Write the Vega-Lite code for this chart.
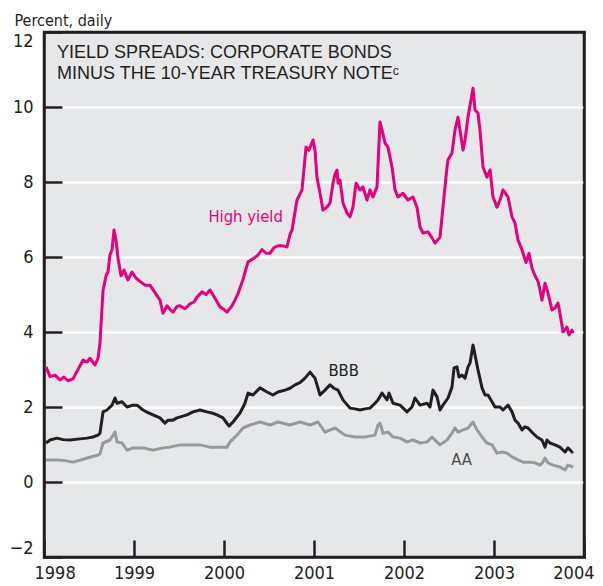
{
 "$schema": "https://vega.github.io/schema/vega-lite/v6.json",
 "width": 540, "height": 525,
 "autosize": "none",
 "padding": {"left": 44, "top": 32, "right": 19, "bottom": 29},
 "background": "white",
 "config": {"view": {"fill": "#e6e7e8", "stroke": "#231f20", "strokeWidth": 2.5}, "font": "Liberation Sans Narrow, Arial Narrow, DejaVu Sans Condensed, Roboto Condensed, Liberation Sans, sans-serif"},
 "title": {"text": ["YIELD SPREADS: CORPORATE BONDS", "MINUS THE 10-YEAR TREASURY NOTEᶜ"], "anchor": "start", "frame": "group", "orient": "top", "offset": 0, "dx": 13, "dy": 71, "baseline": "top", "font": "Liberation Sans, Arial, sans-serif", "fontSize": 18, "fontWeight": "normal", "color": "#231f20", "lineHeight": 21},
 "datasets": {
  "lines": [
{"series":"High yield","year":1998.022,"pct":3.07},{"series":"High yield","year":1998.067,"pct":2.81},{"series":"High yield","year":1998.122,"pct":2.85},{"series":"High yield","year":1998.178,"pct":2.72},{"series":"High yield","year":1998.222,"pct":2.8},{"series":"High yield","year":1998.267,"pct":2.7},{"series":"High yield","year":1998.322,"pct":2.75},{"series":"High yield","year":1998.378,"pct":3.0},{"series":"High yield","year":1998.433,"pct":3.25},{"series":"High yield","year":1998.478,"pct":3.2},{"series":"High yield","year":1998.511,"pct":3.3},{"series":"High yield","year":1998.567,"pct":3.12},{"series":"High yield","year":1998.6,"pct":3.3},{"series":"High yield","year":1998.622,"pct":3.7},{"series":"High yield","year":1998.641,"pct":4.5},{"series":"High yield","year":1998.656,"pct":5.1},{"series":"High yield","year":1998.689,"pct":5.5},{"series":"High yield","year":1998.711,"pct":5.6},{"series":"High yield","year":1998.733,"pct":6.05},{"series":"High yield","year":1998.756,"pct":6.2},{"series":"High yield","year":1998.778,"pct":6.72},{"series":"High yield","year":1998.8,"pct":6.45},{"series":"High yield","year":1998.822,"pct":5.97},{"series":"High yield","year":1998.856,"pct":5.5},{"series":"High yield","year":1998.889,"pct":5.65},{"series":"High yield","year":1998.933,"pct":5.39},{"series":"High yield","year":1998.978,"pct":5.6},{"series":"High yield","year":1999.022,"pct":5.44},{"series":"High yield","year":1999.067,"pct":5.35},{"series":"High yield","year":1999.122,"pct":5.25},{"series":"High yield","year":1999.178,"pct":5.25},{"series":"High yield","year":1999.233,"pct":5.05},{"series":"High yield","year":1999.289,"pct":4.85},{"series":"High yield","year":1999.322,"pct":4.5},{"series":"High yield","year":1999.367,"pct":4.7},{"series":"High yield","year":1999.4,"pct":4.6},{"series":"High yield","year":1999.433,"pct":4.53},{"series":"High yield","year":1999.478,"pct":4.68},{"series":"High yield","year":1999.511,"pct":4.7},{"series":"High yield","year":1999.567,"pct":4.62},{"series":"High yield","year":1999.622,"pct":4.75},{"series":"High yield","year":1999.667,"pct":4.8},{"series":"High yield","year":1999.7,"pct":4.93},{"series":"High yield","year":1999.756,"pct":5.07},{"series":"High yield","year":1999.8,"pct":5.0},{"series":"High yield","year":1999.844,"pct":5.12},{"series":"High yield","year":1999.9,"pct":4.9},{"series":"High yield","year":1999.956,"pct":4.67},{"series":"High yield","year":2000.0,"pct":4.6},{"series":"High yield","year":2000.033,"pct":4.53},{"series":"High yield","year":2000.089,"pct":4.7},{"series":"High yield","year":2000.122,"pct":4.85},{"series":"High yield","year":2000.156,"pct":5.03},{"series":"High yield","year":2000.211,"pct":5.4},{"series":"High yield","year":2000.267,"pct":5.87},{"series":"High yield","year":2000.322,"pct":5.95},{"series":"High yield","year":2000.378,"pct":6.05},{"series":"High yield","year":2000.422,"pct":6.2},{"series":"High yield","year":2000.467,"pct":6.1},{"series":"High yield","year":2000.511,"pct":6.1},{"series":"High yield","year":2000.556,"pct":6.25},{"series":"High yield","year":2000.6,"pct":6.3},{"series":"High yield","year":2000.644,"pct":6.3},{"series":"High yield","year":2000.7,"pct":6.27},{"series":"High yield","year":2000.733,"pct":6.6},{"series":"High yield","year":2000.756,"pct":6.72},{"series":"High yield","year":2000.811,"pct":7.52},{"series":"High yield","year":2000.867,"pct":7.79},{"series":"High yield","year":2000.911,"pct":8.93},{"series":"High yield","year":2000.944,"pct":8.85},{"series":"High yield","year":2000.989,"pct":9.12},{"series":"High yield","year":2001.011,"pct":8.85},{"series":"High yield","year":2001.033,"pct":8.13},{"series":"High yield","year":2001.067,"pct":7.7},{"series":"High yield","year":2001.1,"pct":7.25},{"series":"High yield","year":2001.144,"pct":7.33},{"series":"High yield","year":2001.178,"pct":7.44},{"series":"High yield","year":2001.211,"pct":7.97},{"series":"High yield","year":2001.233,"pct":8.2},{"series":"High yield","year":2001.256,"pct":8.32},{"series":"High yield","year":2001.267,"pct":7.97},{"series":"High yield","year":2001.289,"pct":8.05},{"series":"High yield","year":2001.322,"pct":7.44},{"series":"High yield","year":2001.367,"pct":7.17},{"series":"High yield","year":2001.4,"pct":7.07},{"series":"High yield","year":2001.433,"pct":7.33},{"series":"High yield","year":2001.467,"pct":7.97},{"series":"High yield","year":2001.511,"pct":7.79},{"series":"High yield","year":2001.544,"pct":7.87},{"series":"High yield","year":2001.589,"pct":7.52},{"series":"High yield","year":2001.622,"pct":7.79},{"series":"High yield","year":2001.656,"pct":7.6},{"series":"High yield","year":2001.7,"pct":7.87},{"series":"High yield","year":2001.733,"pct":9.6},{"series":"High yield","year":2001.756,"pct":9.39},{"series":"High yield","year":2001.789,"pct":9.04},{"series":"High yield","year":2001.822,"pct":8.93},{"series":"High yield","year":2001.867,"pct":8.4},{"series":"High yield","year":2001.9,"pct":7.79},{"series":"High yield","year":2001.933,"pct":7.6},{"series":"High yield","year":2001.989,"pct":7.7},{"series":"High yield","year":2002.044,"pct":7.52},{"series":"High yield","year":2002.1,"pct":7.6},{"series":"High yield","year":2002.144,"pct":7.33},{"series":"High yield","year":2002.178,"pct":6.8},{"series":"High yield","year":2002.211,"pct":6.64},{"series":"High yield","year":2002.267,"pct":6.67},{"series":"High yield","year":2002.311,"pct":6.51},{"series":"High yield","year":2002.344,"pct":6.37},{"series":"High yield","year":2002.4,"pct":6.53},{"series":"High yield","year":2002.433,"pct":7.33},{"series":"High yield","year":2002.478,"pct":8.4},{"series":"High yield","year":2002.489,"pct":8.59},{"series":"High yield","year":2002.533,"pct":8.77},{"series":"High yield","year":2002.567,"pct":9.39},{"series":"High yield","year":2002.6,"pct":9.73},{"series":"High yield","year":2002.622,"pct":9.39},{"series":"High yield","year":2002.656,"pct":8.85},{"series":"High yield","year":2002.678,"pct":9.12},{"series":"High yield","year":2002.711,"pct":9.73},{"series":"High yield","year":2002.767,"pct":10.5},{"series":"High yield","year":2002.789,"pct":9.92},{"series":"High yield","year":2002.822,"pct":9.84},{"series":"High yield","year":2002.844,"pct":9.39},{"series":"High yield","year":2002.878,"pct":8.4},{"series":"High yield","year":2002.922,"pct":8.13},{"series":"High yield","year":2002.956,"pct":8.32},{"series":"High yield","year":2002.989,"pct":7.6},{"series":"High yield","year":2003.033,"pct":7.33},{"series":"High yield","year":2003.067,"pct":7.52},{"series":"High yield","year":2003.1,"pct":7.79},{"series":"High yield","year":2003.156,"pct":7.6},{"series":"High yield","year":2003.2,"pct":7.07},{"series":"High yield","year":2003.233,"pct":6.91},{"series":"High yield","year":2003.267,"pct":6.45},{"series":"High yield","year":2003.311,"pct":6.19},{"series":"High yield","year":2003.356,"pct":5.85},{"series":"High yield","year":2003.389,"pct":6.1},{"series":"High yield","year":2003.422,"pct":5.7},{"series":"High yield","year":2003.456,"pct":5.5},{"series":"High yield","year":2003.489,"pct":5.35},{"series":"High yield","year":2003.511,"pct":5.12},{"series":"High yield","year":2003.533,"pct":4.85},{"series":"High yield","year":2003.567,"pct":5.3},{"series":"High yield","year":2003.6,"pct":5.04},{"series":"High yield","year":2003.644,"pct":4.59},{"series":"High yield","year":2003.678,"pct":4.64},{"series":"High yield","year":2003.711,"pct":4.77},{"series":"High yield","year":2003.733,"pct":4.5},{"series":"High yield","year":2003.767,"pct":4.0},{"series":"High yield","year":2003.811,"pct":4.13},{"series":"High yield","year":2003.833,"pct":3.92},{"series":"High yield","year":2003.867,"pct":4.05},{"series":"High yield","year":2003.878,"pct":3.97},
{"series":"BBB","year":1998.022,"pct":1.04},{"series":"BBB","year":1998.067,"pct":1.12},{"series":"BBB","year":1998.144,"pct":1.17},{"series":"BBB","year":1998.211,"pct":1.13},{"series":"BBB","year":1998.289,"pct":1.12},{"series":"BBB","year":1998.4,"pct":1.15},{"series":"BBB","year":1998.478,"pct":1.17},{"series":"BBB","year":1998.544,"pct":1.2},{"series":"BBB","year":1998.6,"pct":1.25},{"series":"BBB","year":1998.622,"pct":1.3},{"series":"BBB","year":1998.656,"pct":1.87},{"series":"BBB","year":1998.7,"pct":1.92},{"series":"BBB","year":1998.756,"pct":2.05},{"series":"BBB","year":1998.789,"pct":2.24},{"series":"BBB","year":1998.811,"pct":2.1},{"series":"BBB","year":1998.867,"pct":2.14},{"series":"BBB","year":1998.922,"pct":2.0},{"series":"BBB","year":1998.989,"pct":2.05},{"series":"BBB","year":1999.033,"pct":2.05},{"series":"BBB","year":1999.1,"pct":1.92},{"series":"BBB","year":1999.156,"pct":1.85},{"series":"BBB","year":1999.211,"pct":1.79},{"series":"BBB","year":1999.289,"pct":1.71},{"series":"BBB","year":1999.344,"pct":1.57},{"series":"BBB","year":1999.378,"pct":1.65},{"series":"BBB","year":1999.433,"pct":1.65},{"series":"BBB","year":1999.478,"pct":1.71},{"series":"BBB","year":1999.533,"pct":1.75},{"series":"BBB","year":1999.589,"pct":1.79},{"series":"BBB","year":1999.656,"pct":1.87},{"series":"BBB","year":1999.733,"pct":1.92},{"series":"BBB","year":1999.811,"pct":1.87},{"series":"BBB","year":1999.867,"pct":1.84},{"series":"BBB","year":1999.922,"pct":1.79},{"series":"BBB","year":1999.989,"pct":1.71},{"series":"BBB","year":2000.022,"pct":1.6},{"series":"BBB","year":2000.056,"pct":1.49},{"series":"BBB","year":2000.1,"pct":1.6},{"series":"BBB","year":2000.178,"pct":1.84},{"series":"BBB","year":2000.233,"pct":2.1},{"series":"BBB","year":2000.267,"pct":2.37},{"series":"BBB","year":2000.322,"pct":2.32},{"series":"BBB","year":2000.4,"pct":2.51},{"series":"BBB","year":2000.478,"pct":2.4},{"series":"BBB","year":2000.544,"pct":2.32},{"series":"BBB","year":2000.6,"pct":2.4},{"series":"BBB","year":2000.678,"pct":2.45},{"series":"BBB","year":2000.733,"pct":2.5},{"series":"BBB","year":2000.789,"pct":2.59},{"series":"BBB","year":2000.844,"pct":2.65},{"series":"BBB","year":2000.9,"pct":2.77},{"series":"BBB","year":2000.956,"pct":2.93},{"series":"BBB","year":2001.011,"pct":2.77},{"series":"BBB","year":2001.067,"pct":2.32},{"series":"BBB","year":2001.122,"pct":2.45},{"series":"BBB","year":2001.178,"pct":2.59},{"series":"BBB","year":2001.222,"pct":2.5},{"series":"BBB","year":2001.267,"pct":2.45},{"series":"BBB","year":2001.322,"pct":2.19},{"series":"BBB","year":2001.4,"pct":1.97},{"series":"BBB","year":2001.456,"pct":1.95},{"series":"BBB","year":2001.511,"pct":1.92},{"series":"BBB","year":2001.567,"pct":1.95},{"series":"BBB","year":2001.622,"pct":1.97},{"series":"BBB","year":2001.678,"pct":2.1},{"series":"BBB","year":2001.711,"pct":2.19},{"series":"BBB","year":2001.756,"pct":2.37},{"series":"BBB","year":2001.811,"pct":2.19},{"series":"BBB","year":2001.833,"pct":2.37},{"series":"BBB","year":2001.878,"pct":2.1},{"series":"BBB","year":2001.956,"pct":2.05},{"series":"BBB","year":2002.033,"pct":1.87},{"series":"BBB","year":2002.089,"pct":2.0},{"series":"BBB","year":2002.122,"pct":2.24},{"series":"BBB","year":2002.178,"pct":2.05},{"series":"BBB","year":2002.256,"pct":2.1},{"series":"BBB","year":2002.289,"pct":2.0},{"series":"BBB","year":2002.322,"pct":2.45},{"series":"BBB","year":2002.367,"pct":2.27},{"series":"BBB","year":2002.4,"pct":1.92},{"series":"BBB","year":2002.433,"pct":2.05},{"series":"BBB","year":2002.489,"pct":2.24},{"series":"BBB","year":2002.533,"pct":2.53},{"series":"BBB","year":2002.556,"pct":3.04},{"series":"BBB","year":2002.589,"pct":3.07},{"series":"BBB","year":2002.611,"pct":2.8},{"series":"BBB","year":2002.644,"pct":2.85},{"series":"BBB","year":2002.678,"pct":2.77},{"series":"BBB","year":2002.711,"pct":3.07},{"series":"BBB","year":2002.733,"pct":3.17},{"series":"BBB","year":2002.767,"pct":3.65},{"series":"BBB","year":2002.789,"pct":3.39},{"series":"BBB","year":2002.822,"pct":2.99},{"series":"BBB","year":2002.867,"pct":2.51},{"series":"BBB","year":2002.9,"pct":2.32},{"series":"BBB","year":2002.933,"pct":2.32},{"series":"BBB","year":2002.978,"pct":2.14},{"series":"BBB","year":2003.011,"pct":2.0},{"series":"BBB","year":2003.067,"pct":2.0},{"series":"BBB","year":2003.1,"pct":1.92},{"series":"BBB","year":2003.156,"pct":2.05},{"series":"BBB","year":2003.2,"pct":1.87},{"series":"BBB","year":2003.233,"pct":1.65},{"series":"BBB","year":2003.267,"pct":1.57},{"series":"BBB","year":2003.311,"pct":1.39},{"series":"BBB","year":2003.344,"pct":1.47},{"series":"BBB","year":2003.378,"pct":1.44},{"series":"BBB","year":2003.433,"pct":1.3},{"series":"BBB","year":2003.478,"pct":1.2},{"series":"BBB","year":2003.533,"pct":1.12},{"series":"BBB","year":2003.567,"pct":0.93},{"series":"BBB","year":2003.589,"pct":1.12},{"series":"BBB","year":2003.622,"pct":1.04},{"series":"BBB","year":2003.678,"pct":0.99},{"series":"BBB","year":2003.733,"pct":0.93},{"series":"BBB","year":2003.789,"pct":0.8},{"series":"BBB","year":2003.822,"pct":0.91},{"series":"BBB","year":2003.867,"pct":0.8},{"series":"BBB","year":2003.878,"pct":0.82},
{"series":"AA","year":1998.022,"pct":0.59},{"series":"AA","year":1998.144,"pct":0.59},{"series":"AA","year":1998.233,"pct":0.57},{"series":"AA","year":1998.322,"pct":0.53},{"series":"AA","year":1998.4,"pct":0.58},{"series":"AA","year":1998.478,"pct":0.64},{"series":"AA","year":1998.6,"pct":0.72},{"series":"AA","year":1998.622,"pct":0.75},{"series":"AA","year":1998.656,"pct":1.04},{"series":"AA","year":1998.733,"pct":1.12},{"series":"AA","year":1998.789,"pct":1.33},{"series":"AA","year":1998.811,"pct":1.07},{"series":"AA","year":1998.867,"pct":1.04},{"series":"AA","year":1998.922,"pct":0.85},{"series":"AA","year":1998.989,"pct":0.91},{"series":"AA","year":1999.1,"pct":0.91},{"series":"AA","year":1999.211,"pct":0.85},{"series":"AA","year":1999.322,"pct":0.91},{"series":"AA","year":1999.4,"pct":0.93},{"series":"AA","year":1999.511,"pct":0.99},{"series":"AA","year":1999.622,"pct":0.99},{"series":"AA","year":1999.733,"pct":0.99},{"series":"AA","year":1999.844,"pct":0.93},{"series":"AA","year":1999.956,"pct":0.93},{"series":"AA","year":2000.033,"pct":0.93},{"series":"AA","year":2000.067,"pct":1.07},{"series":"AA","year":2000.144,"pct":1.25},{"series":"AA","year":2000.211,"pct":1.44},{"series":"AA","year":2000.289,"pct":1.52},{"series":"AA","year":2000.4,"pct":1.6},{"series":"AA","year":2000.511,"pct":1.52},{"series":"AA","year":2000.6,"pct":1.6},{"series":"AA","year":2000.733,"pct":1.52},{"series":"AA","year":2000.844,"pct":1.6},{"series":"AA","year":2000.956,"pct":1.52},{"series":"AA","year":2001.044,"pct":1.6},{"series":"AA","year":2001.122,"pct":1.33},{"series":"AA","year":2001.233,"pct":1.44},{"series":"AA","year":2001.344,"pct":1.25},{"series":"AA","year":2001.456,"pct":1.2},{"series":"AA","year":2001.567,"pct":1.2},{"series":"AA","year":2001.678,"pct":1.25},{"series":"AA","year":2001.711,"pct":1.52},{"series":"AA","year":2001.733,"pct":1.57},{"series":"AA","year":2001.767,"pct":1.3},{"series":"AA","year":2001.822,"pct":1.33},{"series":"AA","year":2001.878,"pct":1.2},{"series":"AA","year":2001.956,"pct":1.17},{"series":"AA","year":2002.033,"pct":1.07},{"series":"AA","year":2002.1,"pct":1.12},{"series":"AA","year":2002.178,"pct":1.04},{"series":"AA","year":2002.256,"pct":1.07},{"series":"AA","year":2002.311,"pct":1.2},{"series":"AA","year":2002.344,"pct":1.12},{"series":"AA","year":2002.4,"pct":0.99},{"series":"AA","year":2002.478,"pct":1.12},{"series":"AA","year":2002.533,"pct":1.3},{"series":"AA","year":2002.567,"pct":1.44},{"series":"AA","year":2002.6,"pct":1.33},{"series":"AA","year":2002.656,"pct":1.39},{"series":"AA","year":2002.711,"pct":1.44},{"series":"AA","year":2002.767,"pct":1.6},{"series":"AA","year":2002.811,"pct":1.39},{"series":"AA","year":2002.867,"pct":1.2},{"series":"AA","year":2002.922,"pct":1.04},{"series":"AA","year":2002.978,"pct":0.99},{"series":"AA","year":2003.033,"pct":0.77},{"series":"AA","year":2003.089,"pct":0.8},{"series":"AA","year":2003.144,"pct":0.77},{"series":"AA","year":2003.2,"pct":0.67},{"series":"AA","year":2003.267,"pct":0.59},{"series":"AA","year":2003.322,"pct":0.53},{"series":"AA","year":2003.4,"pct":0.53},{"series":"AA","year":2003.456,"pct":0.51},{"series":"AA","year":2003.511,"pct":0.45},{"series":"AA","year":2003.544,"pct":0.53},{"series":"AA","year":2003.567,"pct":0.64},{"series":"AA","year":2003.6,"pct":0.51},{"series":"AA","year":2003.656,"pct":0.45},{"series":"AA","year":2003.733,"pct":0.4},{"series":"AA","year":2003.789,"pct":0.32},{"series":"AA","year":2003.822,"pct":0.45},{"series":"AA","year":2003.878,"pct":0.4}
  ],
  "labels": [
   {"label": "High yield", "year": 2000.24, "pct": 7.07},
   {"label": "BBB", "year": 2001.33, "pct": 2.96},
   {"label": "AA", "year": 2002.64, "pct": 0.59}
  ]
 },
 "layer": [
  {
   "data": {"name": "lines"},
   "mark": {"type": "line", "strokeWidth": 3, "strokeJoin": "round"},
   "encoding": {
    "x": {"field": "year", "type": "quantitative", "scale": {"domain": [1998, 2004], "nice": false, "zero": false},
     "axis": {"orient": "bottom", "values": [1998, 1999, 2000, 2001, 2002, 2003, 2004], "format": "d", "title": null, "grid": false,
      "domain": true, "domainColor": "#231f20", "domainWidth": 2.5, "domainCap": "square",
      "ticks": true, "tickSize": -17, "tickColor": "#231f20", "tickWidth": 2.5,
      "labelPadding": 24, "labelFlush": true, "labelFlushOffset": 10, "labelFontSize": 18, "labelColor": "#231f20"}},
    "y": {"field": "pct", "type": "quantitative", "scale": {"domain": [-2, 12], "nice": false, "zero": false},
     "axis": {"orient": "left", "values": [-2, 0, 2, 4, 6, 8, 10, 12], "title": "Percent, daily", "titleAngle": 0, "titleAlign": "left", "titleBaseline": "alphabetic", "titleX": -30, "titleY": -7,
      "titleFontSize": 16, "titleFontWeight": "normal", "titleColor": "#231f20",
      "grid": true, "gridColor": {"condition": {"test": "datum.value > -2 && datum.value < 12", "value": "#ffffff"}, "value": "transparent"}, "gridWidth": 2.5,
      "domain": true, "domainColor": "#231f20", "domainWidth": 2.5, "domainCap": "square",
      "ticks": true, "tickSize": -18, "tickColor": "#231f20", "tickWidth": 2.5,
      "labelPadding": 29, "labelFlush": true, "labelFontSize": 18, "labelColor": "#231f20"}},
    "color": {"field": "series", "type": "nominal", "scale": {"domain": ["High yield", "BBB", "AA"], "range": ["#e6007e", "#231f20", "#999999"]}, "legend": null}
   }
  },
  {
   "data": {"name": "labels"},
   "mark": {"type": "text", "fontSize": 16.5, "align": "center", "baseline": "middle"},
   "encoding": {
    "x": {"field": "year", "type": "quantitative", "axis": {"orient": "top", "labels": false, "ticks": false, "grid": false, "title": null, "domain": true, "domainColor": "#231f20", "domainWidth": 2.5, "domainCap": "square"}},
    "y": {"field": "pct", "type": "quantitative", "axis": {"orient": "right", "labels": false, "ticks": false, "grid": false, "title": null, "domain": true, "domainColor": "#231f20", "domainWidth": 2.5, "domainCap": "square"}},
    "text": {"field": "label"},
    "color": {"field": "label", "type": "nominal", "scale": {"domain": ["High yield", "BBB", "AA"], "range": ["#e6007e", "#231f20", "#4d4d4d"]}, "legend": null}
   }
  }
 ],
 "resolve": {"scale": {"color": "independent"}, "axis": {"x": "independent", "y": "independent"}}
}
